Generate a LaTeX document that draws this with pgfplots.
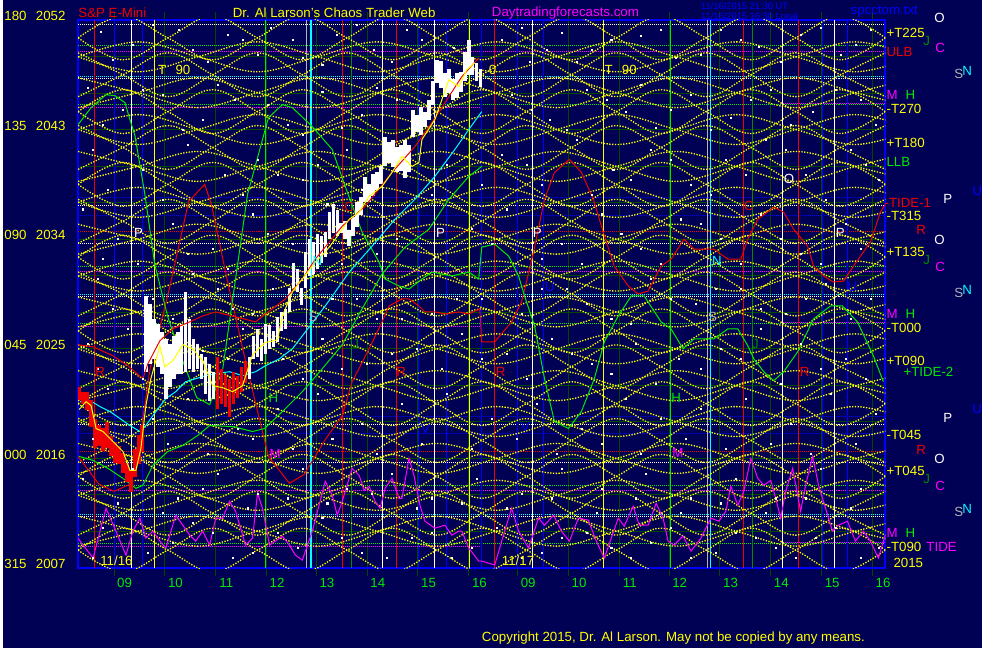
\documentclass[border=0pt]{standalone}
\usepackage{pgfplots}
\pgfplotsset{compat=1.18}
\usepackage{pgfplotstable}
\usepackage{fontspec}
\setmainfont{Liberation Sans}
\definecolor{bgn}{RGB}{0,0,85}
\definecolor{dgrid}{RGB}{0,72,0}
\definecolor{gline}{RGB}{0,235,0}
\definecolor{mgreen}{RGB}{0,140,0}
\definecolor{yel}{RGB}{255,255,0}
\definecolor{mag}{RGB}{255,0,255}
\definecolor{rd}{RGB}{240,0,0}
\definecolor{bl}{RGB}{0,0,255}
\definecolor{cy}{RGB}{0,255,255}
\definecolor{gr}{RGB}{180,180,180}
\newcommand{\f}{\fontsize{10pt}{12pt}\selectfont}
\newcommand{\fs}{\fontsize{7pt}{8pt}\selectfont}

% yellow lattice, family 1 (x in px of chart, y in px from top)
\pgfplotstableread{
x u1 l1 u2 l2 u3 l3 u4 l4 u5 l5 u6 l6 u7 l7 u8 l8 u9 l9 u10 l10 u11 l11 u12 l12 u13 l13 u14 l14 u15 l15
75  38 38 53 97 112 112 126 170 185 185 200 244 258 258 273 317 332 332 346 390 405 405 420 464 478 478 493 537 552 552
120 16 60 75 75 90 134 148 148 163 207 222 222 236 280 295 295 310 354 368 368 383 427 442 442 456 500 515 515 530 574
165 38 38 97 53 112 112 170 126 185 185 244 200 258 258 317 273 332 332 390 346 405 405 464 420 478 478 537 493 552 552
210 60 16 75 75 134 90 148 148 207 163 222 222 280 236 295 295 354 310 368 368 427 383 442 442 500 456 515 515 574 530
255 38 38 53 97 112 112 126 170 185 185 200 244 258 258 273 317 332 332 346 390 405 405 420 464 478 478 493 537 552 552
300 16 60 75 75 90 134 148 148 163 207 222 222 236 280 295 295 310 354 368 368 383 427 442 442 456 500 515 515 530 574
345 38 38 97 53 112 112 170 126 185 185 244 200 258 258 317 273 332 332 390 346 405 405 464 420 478 478 537 493 552 552
390 60 16 75 75 134 90 148 148 207 163 222 222 280 236 295 295 354 310 368 368 427 383 442 442 500 456 515 515 574 530
435 38 38 53 97 112 112 126 170 185 185 200 244 258 258 273 317 332 332 346 390 405 405 420 464 478 478 493 537 552 552
480 16 60 75 75 90 134 148 148 163 207 222 222 236 280 295 295 310 354 368 368 383 427 442 442 456 500 515 515 530 574
525 38 38 97 53 112 112 170 126 185 185 244 200 258 258 317 273 332 332 390 346 405 405 464 420 478 478 537 493 552 552
570 60 16 75 75 134 90 148 148 207 163 222 222 280 236 295 295 354 310 368 368 427 383 442 442 500 456 515 515 574 530
615 38 38 53 97 112 112 126 170 185 185 200 244 258 258 273 317 332 332 346 390 405 405 420 464 478 478 493 537 552 552
660 16 60 75 75 90 134 148 148 163 207 222 222 236 280 295 295 310 354 368 368 383 427 442 442 456 500 515 515 530 574
705 38 38 97 53 112 112 170 126 185 185 244 200 258 258 317 273 332 332 390 346 405 405 464 420 478 478 537 493 552 552
750 60 16 75 75 134 90 148 148 207 163 222 222 280 236 295 295 354 310 368 368 427 383 442 442 500 456 515 515 574 530
795 38 38 53 97 112 112 126 170 185 185 200 244 258 258 273 317 332 332 346 390 405 405 420 464 478 478 493 537 552 552
840 16 60 75 75 90 134 148 148 163 207 222 222 236 280 295 295 310 354 368 368 383 427 442 442 456 500 515 515 530 574
885 38 38 97 53 112 112 170 126 185 185 244 200 258 258 317 273 332 332 390 346 405 405 464 420 478 478 537 493 552 552
}\lattice
% yellow lattice, family 2 (longer lenses between the levels of family 1)
\pgfplotstableread{
x v1 w1 v2 w2 v3 w3 v4 w4 v5 w5 v6 w6 v7 w7 v8 w8 v9 w9 v10 w10 v11 w11 v12 w12 v13 w13 v14 w14
75  57 57 78 108 130 130 152 182 203 203 225 255 277 277 298 328 350 350 372 402 423 423 445 475 497 497 518 548
135 42 72 93 93 115 145 167 167 188 218 240 240 262 292 313 313 335 365 387 387 408 438 460 460 482 512 533 533
195 57 57 108 78 130 130 182 152 203 203 255 225 277 277 328 298 350 350 402 372 423 423 475 445 497 497 548 518
255 72 42 93 93 145 115 167 167 218 188 240 240 292 262 313 313 365 335 387 387 438 408 460 460 512 482 533 533
315 57 57 78 108 130 130 152 182 203 203 225 255 277 277 298 328 350 350 372 402 423 423 445 475 497 497 518 548
375 42 72 93 93 115 145 167 167 188 218 240 240 262 292 313 313 335 365 387 387 408 438 460 460 482 512 533 533
435 57 57 108 78 130 130 182 152 203 203 255 225 277 277 328 298 350 350 402 372 423 423 475 445 497 497 548 518
495 72 42 93 93 145 115 167 167 218 188 240 240 292 262 313 313 365 335 387 387 438 408 460 460 512 482 533 533
555 57 57 78 108 130 130 152 182 203 203 225 255 277 277 298 328 350 350 372 402 423 423 445 475 497 497 518 548
615 42 72 93 93 115 145 167 167 188 218 240 240 262 292 313 313 335 365 387 387 408 438 460 460 482 512 533 533
675 57 57 108 78 130 130 182 152 203 203 255 225 277 277 328 298 350 350 402 372 423 423 475 445 497 497 548 518
735 72 42 93 93 145 115 167 167 218 188 240 240 292 262 313 313 365 335 387 387 438 408 460 460 512 482 533 533
795 57 57 78 108 130 130 152 182 203 203 225 255 277 277 298 328 350 350 372 402 423 423 445 475 497 497 518 548
855 42 72 93 93 115 145 167 167 188 218 240 240 262 292 313 313 335 365 387 387 408 438 460 460 482 512 533 533
915 57 57 108 78 130 130 182 152 203 203 255 225 277 277 328 298 350 350 402 372 423 423 475 445 497 497 548 518
}\latticeb

\begin{document}
\begin{tikzpicture}
\fill[bgn] (0,0) rectangle (736.5pt,487.5pt);
\begin{axis}[
  at={(360pt,266.25pt)}, anchor=center,
  scale only axis, width=607.5pt, height=412.5pt,
  xmin=75, xmax=885, ymin=20, ymax=570, y dir=reverse,
  unbounded coords=jump,
  axis line style={bl, line width=1.5pt},
  xtick={111,162,213,264,314,365,416,467,516,567,618,668,719,770,821,872},
  xticklabels={09,10,11,12,13,14,15,16,09,10,11,12,13,14,15,16},
  ytick={20,130,240,350,460,570},
  yticklabels={{180\hspace{7pt}2052},{135\hspace{7pt}2043},{090\hspace{7pt}2034},{045\hspace{7pt}2025},{000\hspace{7pt}2016},{315\hspace{7pt}2007}},
  minor ytick={56.67,93.33,166.67,203.33,276.67,313.33,386.67,423.33,496.67,533.33},
  xmajorgrids, ymajorgrids, yminorgrids,
  major grid style={dgrid, line width=0.75pt},
  minor grid style={dgrid, line width=0.75pt},
  tick align=outside, major tick length=6pt, minor tick length=0pt,
  xtick style={dgrid, line width=0.75pt},
  ytick style={draw=none},
  ticklabel style={font=\f},
  xticklabel style={text=gline, xshift=8pt, yshift=1.5pt},
  yticklabel style={text=yel, yshift=3pt},
]
% horizontal dotted level lines
\pgfplotsset{hd/.style={line width=0.75pt, dash pattern=on 0.75pt off 0.75pt}}
\addplot[white, hd] coordinates {(75,25)(885,25)(885,nan)(75,79)(885,79)(885,nan)(75,206)(885,206)(885,nan)(75,244)(885,244)(885,nan)(75,298)(885,298)(885,nan)(75,426)(885,426)(885,nan)(75,464)(885,464)(885,nan)(75,518)(885,518)};
\addplot[gline, hd] coordinates {(75,46)(885,46)(885,nan)(75,105)(885,105)(885,nan)(75,267)(885,267)(885,nan)(75,325)(885,325)(885,nan)(75,487)(885,487)(885,nan)(75,545)(885,545)};
\addplot[mag, hd] coordinates {(75,52)(885,52)(885,nan)(75,108)(480,108)(480,nan)(780,104)(885,104)(885,nan)(75,272)(885,272)(885,nan)(75,328)(480,328)(480,nan)(780,324)(885,324)(885,nan)(75,492)(885,492)(885,nan)(75,548)(480,548)(480,nan)(780,544)(885,544)};
\addplot[cy, hd] coordinates {(75,77)(885,77)(885,nan)(75,296)(885,296)(885,nan)(75,516)(885,516)};
\addplot[bl, hd] coordinates {(75,198)(885,198)(885,nan)(75,216)(885,216)(885,nan)(75,418)(885,418)(885,nan)(75,435)(885,435)};
\addplot[rd, hd] coordinates {(75,232)(885,232)(885,nan)(75,453)(885,453)};
% vertical time lines
\addplot[rd, line width=0.75pt] coordinates {(91,20)(91,570)(91,nan)(340,20)(340,570)(340,nan)(394,20)(394,570)(394,nan)(493,20)(493,570)(493,nan)(743,20)(743,570)(743,nan)(798,20)(798,570)};
\addplot[bl, line width=0.75pt] coordinates {(112,20)(112,570)(112,nan)(140,20)(140,570)(140,nan)(417,20)(417,570)(417,nan)(445,20)(445,570)(445,nan)(480,20)(480,570)(480,nan)(516,20)(516,570)(516,nan)(542,20)(542,570)(542,nan)(822,20)(822,570)(822,nan)(847,20)(847,570)};
\addplot[white, line width=0.75pt] coordinates {(129,20)(129,570)(129,nan)(380,20)(380,570)(380,nan)(433,20)(433,570)(433,nan)(531,20)(531,570)(531,nan)(782,20)(782,570)(782,nan)(834,20)(834,570)};
\addplot[yel, line width=0.75pt] coordinates {(152,20)(152,570)(152,nan)(468,20)(468,570)(468,nan)(602,20)(602,570)};
\addplot[gline, line width=0.75pt] coordinates {(263,20)(263,570)(263,nan)(669,20)(669,570)};
\addplot[mgreen, line width=0.75pt] coordinates {(349,20)(349,570)(349,nan)(752,20)(752,570)};
\addplot[gr, line width=0.75pt] coordinates {(304,20)(304,570)(304,nan)(707,20)(707,570)};
\addplot[cy, line width=1.5pt] coordinates {(309,20)(309,570)};
\addplot[cy, line width=0.75pt] coordinates {(710,20)(710,570)};
% yellow lattice
\pgfplotsset{lat/.style={yel, line width=1pt, dash pattern=on 1pt off 1.1pt, smooth, tension=0.6}}
\pgfplotsinvokeforeach{u1,l1,u2,l2,u3,l3,u4,l4,u5,l5,u6,l6,u7,l7,u8,l8,u9,l9,u10,l10,u11,l11,u12,l12,u13,l13,u14,l14,u15,l15}{
  \addplot[lat] table[x=x,y=#1]{\lattice};
}
\pgfplotsinvokeforeach{v1,w1,v2,w2,v3,w3,v4,w4,v5,w5,v6,w6,v7,w7,v8,w8,v9,w9,v10,w10,v11,w11,v12,w12,v13,w13,v14,w14}{
  \addplot[lat] table[x=x,y=#1]{\latticeb};
}
% white star dots
\addplot[only marks, mark=square*, mark size=0.4pt, white] coordinates {
(98,32)(130,45)(176,30)(205,62)(240,40)(268,28)(300,58)(335,35)(372,50)(405,30)(452,48)(500,40)(528,62)(560,33)(590,50)(640,36)(675,58)(720,30)(758,47)(800,35)(840,55)(870,30)
(85,88)(120,110)(160,95)(200,120)(232,100)(285,125)(320,92)(360,115)(395,100)(510,95)(548,120)(585,90)(625,112)(655,128)(690,95)(730,118)(770,90)(812,112)(860,100)
(90,150)(140,170)(185,145)(222,175)(255,160)(300,180)(345,150)(445,165)(500,155)(540,185)(575,140)(612,170)(650,150)(690,185)(725,160)(765,140)(805,175)(850,150)(878,180)
(80,210)(115,240)(170,225)(210,250)(250,215)(290,245)(325,205)(375,255)(470,230)(505,210)(560,245)(600,215)(640,250)(680,220)(720,240)(760,215)(800,255)(845,225)
(95,280)(150,300)(190,275)(230,310)(270,290)(310,275)(355,300)(400,320)(455,300)(520,315)(565,290)(610,320)(650,280)(695,305)(740,290)(785,315)(825,285)(870,300)
(85,345)(125,330)(200,352)(240,330)(280,360)(320,340)(365,365)(415,350)(460,335)(505,355)(550,340)(590,365)(635,345)(678,360)(720,350)(760,330)(800,345)(845,360)
(105,390)(150,420)(185,400)(235,430)(275,410)(315,395)(360,425)(400,405)(445,395)(490,420)(535,405)(580,430)(625,400)(660,420)(700,410)(745,400)(790,425)(830,395)(875,415)
(80,480)(130,470)(175,500)(215,475)(255,495)(300,470)(345,490)(390,475)(430,500)(475,480)(520,495)(560,470)(600,490)(645,475)(690,500)(735,480)(775,500)(820,470)(860,490)
(100,530)(145,555)(190,525)(230,560)(275,535)(320,520)(360,555)(410,540)(450,560)(495,530)(540,555)(585,535)(630,560)(670,530)(715,555)(755,540)(795,560)(835,530)(878,550)
(110,60)(150,25)(190,50)(225,35)(255,55)(290,40)(320,65)(355,25)(390,62)(420,40)(520,28)(545,50)(575,62)(610,40)(660,30)(700,55)(740,40)(780,62)(820,28)(855,45)
(100,125)(140,90)(180,130)(215,85)(265,105)(300,135)(340,128)(375,88)(410,125)(530,110)(565,130)(605,100)(640,85)(670,110)(710,130)(750,100)(790,125)(835,90)(875,125)
(105,190)(160,200)(240,195)(275,175)(315,165)(360,190)(430,195)(480,185)(525,165)(590,195)(630,180)(670,160)(710,195)(745,175)(785,150)(825,200)(865,165)
(100,260)(135,265)(185,255)(225,270)(265,235)(340,265)(395,240)(490,245)(540,260)(580,265)(620,235)(660,265)(700,225)(740,265)(780,240)(820,265)(860,250)
(110,310)(170,320)(215,290)(250,315)(330,300)(375,320)(430,315)(480,300)(540,290)(585,305)(630,325)(670,300)(715,290)(760,310)(805,300)(850,320)
(95,370)(140,380)(225,360)(300,380)(340,370)(390,355)(440,370)(480,360)(525,380)(570,355)(610,375)(655,385)(700,370)(740,360)(780,385)(820,370)(865,380)
(90,440)(165,445)(205,455)(250,440)(290,450)(330,440)(375,455)(420,445)(470,450)(515,440)(555,455)(600,445)(640,455)(685,440)(725,450)(770,445)(810,455)(855,445)
(115,505)(160,515)(200,490)(245,510)(285,500)(325,505)(370,495)(415,510)(460,505)(505,510)(550,500)(595,515)(635,500)(680,515)(720,505)(765,515)(805,500)(850,510)
(90,560)(170,545)(210,535)(250,555)(295,550)(340,540)(385,560)(430,535)(470,550)(520,560)(560,540)(610,550)(650,545)(690,560)(735,535)(775,550)(815,540)(860,560)};
% magenta oscillator
\addplot[mag, line width=0.75pt] coordinates {(75,540)(77,543)(90,560)(103,510)(113,533)(123,557)(130,533)(137,520)(143,540)(150,533)(157,543)(163,550)(173,517)(180,527)(187,537)(193,543)(200,533)(207,547)(213,520)(220,520)(227,503)(233,513)(243,547)(250,540)(255,495)(260,510)(267,547)(273,543)(280,538)(287,547)(293,557)(300,562)(310,533)(323,483)(330,497)(335,517)(340,503)(350,470)(357,477)(362,492)(367,488)(373,503)(378,510)(383,490)(390,480)(397,500)(400,500)(407,460)(412,477)(418,507)(423,523)(433,530)(443,527)(450,537)(457,533)(460,533)(467,550)(477,563)(480,563)(493,567)(503,533)(510,510)(517,533)(527,550)(537,520)(543,527)(552,517)(560,533)(568,543)(577,520)(587,522)(595,543)(603,560)(610,540)(617,520)(623,528)(632,508)(638,527)(647,527)(655,505)(662,520)(667,543)(673,547)(682,538)(690,553)(700,540)(710,520)(718,523)(725,513)(730,488)(737,507)(743,493)(750,460)(757,480)(763,487)(770,482)(775,500)(780,520)(785,493)(792,470)(797,497)(800,513)(805,487)(812,458)(818,487)(825,510)(832,533)(838,527)(847,523)(855,543)(863,533)(870,543)(878,560)(885,537)};
% red TIDE-1 forecast
\addplot[rd, line width=0.75pt] coordinates {(75,458)(96,486)(111,493)(127,486)(137,441)(147,371)(168,283)(186,202)(202,185)(209,206)(225,283)(245,371)(266,458)(287,485)(302,476)(323,441)(340,417)(350,383)(367,350)(380,323)(387,307)(400,300)(407,300)(417,307)(423,313)(433,313)(443,315)(457,313)(467,315)(478,310)(480,343)(493,343)(510,323)(520,303)(532,253)(543,200)(553,173)(568,160)(580,173)(592,200)(602,233)(613,267)(627,287)(637,295)(647,292)(660,267)(670,260)(683,240)(693,250)(713,250)(727,260)(740,260)(747,240)(757,220)(773,208)(783,213)(793,230)(807,247)(813,267)(823,277)(833,283)(843,282)(853,267)(870,243)(880,213)(885,205)};
% green TIDE-2 forecast
\addplot[gline, line width=0.75pt] coordinates {(75,125)(88,108)(103,95)(112,96)(122,103)(127,120)(132,136)(142,195)(152,266)(165,318)(178,357)(194,399)(207,406)(220,371)(230,301)(245,195)(266,118)(280,105)(290,108)(310,127)(330,150)(343,187)(360,233)(377,263)(383,280)(397,287)(407,290)(420,280)(430,273)(450,277)(467,273)(477,280)(480,248)(493,245)(507,257)(517,277)(523,297)(533,327)(543,380)(553,423)(567,430)(580,413)(593,380)(603,343)(617,317)(630,297)(643,297)(660,323)(670,330)(682,350)(693,340)(713,340)(727,330)(737,330)(747,347)(753,360)(763,373)(773,382)(783,373)(797,353)(813,320)(830,307)(842,307)(857,323)(873,357)(883,383)};
% slow moving averages
\addplot[gline, line width=0.75pt] coordinates {(76,458)(90,462)(105,470)(120,480)(133,490)(140,487)(150,467)(165,453)(180,447)(195,437)(207,427)(230,428)(250,433)(262,430)(280,413)(300,393)(320,370)(340,346)(357,315)(380,275)(403,248)(427,230)(447,200)(467,177)(480,167)};
\addplot[cy, line width=0.75pt] coordinates {(77,403)(87,402)(97,408)(107,413)(117,420)(127,427)(137,433)(143,427)(153,413)(163,400)(173,393)(183,383)(193,380)(203,377)(213,375)(227,373)(240,377)(253,373)(263,367)(277,360)(290,350)(300,337)(323,307)(347,273)(370,247)(393,220)(413,200)(433,177)(453,150)(467,130)(480,112)};
% candles (high/low px)
\addplot[rd, line width=2.6pt] coordinates {(76,388)(76,401)(76,nan)(80,393)(80,405)(80,nan)(84,393)(84,411)(84,nan)(88,401)(88,428)(88,nan)(92,420)(92,450)(92,nan)(96,426)(96,448)(96,nan)(100,429)(100,453)(100,nan)(104,423)(104,450)(104,nan)(108,438)(108,458)(108,nan)(112,444)(112,465)(112,nan)(116,448)(116,466)(116,nan)(120,455)(120,475)(120,nan)(124,465)(124,484)(124,nan)(128,472)(128,494)(128,nan)(132,451)(132,479)(132,nan)(136,436)(136,466)(136,nan)(139,426)(139,454)(139,nan)
(215,358)(215,410)(215,nan)(219,370)(219,405)(219,nan)(223,376)(223,408)(223,nan)(227,380)(227,418)(227,nan)(231,373)(231,405)(231,nan)(235,377)(235,399)(235,nan)(239,368)(239,393)(239,nan)(243,362)(243,384)};
\addplot[white, line width=2.6pt] coordinates {(143,297)(143,373)(143,nan)(147,305)(147,365)(147,nan)(151,320)(151,360)(151,nan)(155,325)(155,368)(155,nan)(159,333)(159,375)(159,nan)(163,340)(163,400)(163,nan)(167,345)(167,388)(167,nan)(171,337)(171,380)(171,nan)(175,333)(175,375)(175,nan)(179,325)(179,375)(179,nan)(183,293)(183,373)(183,nan)(187,320)(187,370)(187,nan)(191,340)(191,373)(191,nan)(195,345)(195,370)(195,nan)(199,355)(199,380)(199,nan)(203,358)(203,395)(203,nan)(207,365)(207,402)(207,nan)(211,373)(211,400)(211,nan)
(247,358)(247,380)(247,nan)(251,337)(251,360)(251,nan)(255,330)(255,358)(255,nan)(259,340)(259,362)(259,nan)(263,325)(263,355)(263,nan)(267,326)(267,350)(267,nan)(271,332)(271,348)(271,nan)(275,318)(275,343)(275,nan)(279,313)(279,332)(279,nan)(283,310)(283,330)(283,nan)(287,289)(287,313)(287,nan)(291,264)(291,289)(291,nan)(295,270)(295,293)(295,nan)(299,289)(299,306)(299,nan)(303,253)(303,289)(303,nan)(307,240)(307,277)(307,nan)(311,243)(311,275)(311,nan)(315,235)(315,270)(315,nan)(319,237)(319,264)(319,nan)(323,233)(323,258)(323,nan)(327,213)(327,240)(327,nan)(331,205)(331,234)(331,nan)(335,211)(335,237)(335,nan)(339,224)(339,234)(339,nan)(343,222)(343,240)(343,nan)(347,231)(347,247)(347,nan)(351,218)(351,237)(351,nan)(355,203)(355,228)(355,nan)(359,198)(359,216)(359,nan)(363,178)(363,203)(363,nan)(367,185)(367,203)(367,nan)(371,175)(371,197)(371,nan)(375,173)(375,191)(375,nan)(379,167)(379,185)(379,nan)(383,137)(383,167)(383,nan)(387,142)(387,164)(387,nan)(391,140)(391,168)(391,nan)(395,148)(395,173)(395,nan)(399,145)(399,172)(399,nan)(403,140)(403,179)(403,nan)(407,146)(407,173)(407,nan)(411,110)(411,137)(411,nan)(415,115)(415,132)(415,nan)(419,107)(419,135)(419,nan)(423,112)(423,127)(423,nan)(427,100)(427,120)(427,nan)(431,81)(431,105)(431,nan)(435,60)(435,83)(435,nan)(439,61)(439,88)(439,nan)(443,73)(443,97)(443,nan)(447,69)(447,93)(447,nan)(451,79)(451,100)(451,nan)(455,73)(455,98)(455,nan)(459,72)(459,92)(459,nan)(463,52)(463,81)(463,nan)(467,40)(467,75)(467,nan)(471,57)(471,75)(471,nan)(475,63)(475,81)(475,nan)(479,69)(479,87)};
% fast moving averages
\addplot[rd, line width=0.75pt] coordinates {(75,346)(90,348)(110,357)(125,367)(140,380)(145,365)(157,342)(170,330)(187,323)(200,317)(213,313)(233,318)(253,323)(267,312)(283,300)(300,280)(313,260)(340,227)(363,207)(390,173)(413,147)(430,123)(447,97)(460,77)(477,58)};
\addplot[yel, line width=0.75pt] coordinates {(76,411)(83,403)(88,407)(93,430)(100,433)(110,443)(120,453)(127,472)(133,472)(138,450)(143,407)(148,380)(157,347)(162,368)(170,362)(180,346)(190,350)(200,362)(210,387)(220,389)(230,393)(240,387)(250,356)(262,344)(275,341)(280,317)(290,293)(300,280)(313,263)(323,253)(333,240)(347,220)(357,213)(367,197)(380,187)(390,173)(400,157)(410,167)(417,163)(420,140)(433,120)(440,100)(447,80)(457,87)(465,70)(473,63)};
\end{axis}
\begin{scope}[x=0.75pt, y=-0.75pt, shift={(0pt,487.5pt)}, every node/.style={inner sep=0pt, anchor=west, font=\f}]
\node[text=rd] at (75,13) {S\&P E-Mini};
\node[text=yel] at (230,13) {Dr. Al Larson's Chaos Trader Web};
\node[text=mag] at (490,13) {Daytradingforecasts.com};
\node[text=bl, font=\fs] at (700,6) {11/16/2015 21:30 UT};
\node[text=bl, font=\fs] at (700,16) {11/16/2015 16:30 Local};
\node[text=bl] at (850,12) {spcctom.txt};
\node[text=yel] at (480,640) {Copyright 2015, Dr. Al Larson. May not be copied by any means.};
% inside chart annotations
\node[text=yel] at (155,70) {T\hspace{7pt}90};
\node[text=yel] at (603,70) {T\hspace{7pt}90};
\node[text=yel] at (487,70) {0};
\node[text=white] at (131,234) {P};
\node[text=white] at (434,234) {P};
\node[text=white] at (531,234) {P};
\node[text=white] at (835,234) {P};
\node[text=rd] at (92,373) {R};
\node[text=rd] at (394,373) {R};
\node[text=rd] at (494,373) {R};
\node[text=rd] at (799,373) {R};
\node[text=gline] at (266,399) {H};
\node[text=gline] at (670,399) {H};
\node[text=mag] at (267,456) {M};
\node[text=mag] at (671,455) {M};
\node[text=gr] at (306,318) {S};
\node[text=gr] at (707,318) {S};
\node[text=cy] at (310,262) {N};
\node[text=cy] at (711,262) {N};
\node[text=bl] at (543,288) {U};
\node[text=bl] at (847,288) {U};
\node[text=bl] at (419,430) {V};
\node[text=bl] at (519,428) {V};
\node[text=rd] at (342,208) {C};
\node[text=rd] at (743,207) {C};
\node[text=white] at (783,180) {O};
\node[text=mgreen] at (350,345) {J};
\node[text=mgreen] at (751,345) {J};
\node[text=yel] at (97,563) {11/16};
\node[text=yel] at (500,563) {11/17};
% right side labels
\node[text=white] at (934,18) {O};
\node[text=yel] at (886,33) {+T225};
\node[text=mgreen] at (923,41) {J};
\node[text=mag] at (935,48) {C};
\node[text=rd] at (886,52) {ULB};
\node[text=gr] at (954,74) {S};
\node[text=cy] at (962,71) {N};
\node[text=mag] at (886,95) {M};
\node[text=gline] at (905,95) {H};
\node[text=yel] at (886,109) {-T270};
\node[text=yel] at (886,143) {+T180};
\node[text=gline] at (886,162) {LLB};
\node[text=bl] at (972,192) {U};
\node[text=white] at (943,200) {P};
\node[text=rd] at (884,204) {-TIDE-1};
\node[text=yel] at (886,217) {-T315};
\node[text=rd] at (916,231) {R};
\node[text=white] at (934,241) {O};
\node[text=yel] at (886,253) {+T135};
\node[text=mgreen] at (923,261) {J};
\node[text=mag] at (935,268) {C};
\node[text=gr] at (954,294) {S};
\node[text=cy] at (962,291) {N};
\node[text=mag] at (886,315) {M};
\node[text=gline] at (905,315) {H};
\node[text=yel] at (886,329) {-T000};
\node[text=yel] at (886,362) {+T090};
\node[text=gline] at (903,373) {+TIDE-2};
\node[text=bl] at (972,410) {U};
\node[text=white] at (943,419) {P};
\node[text=yel] at (886,436) {-T045};
\node[text=rd] at (916,451) {R};
\node[text=white] at (934,461) {O};
\node[text=yel] at (886,473) {+T045};
\node[text=mgreen] at (923,481) {J};
\node[text=mag] at (935,488) {C};
\node[text=gr] at (954,514) {S};
\node[text=cy] at (962,511) {N};
\node[text=mag] at (886,535) {M};
\node[text=gline] at (905,535) {H};
\node[text=yel] at (886,549) {-T090};
\node[text=mag] at (926,549) {TIDE};
\node[text=yel] at (893,565) {2015};
\end{scope}
\end{tikzpicture}
\end{document}
